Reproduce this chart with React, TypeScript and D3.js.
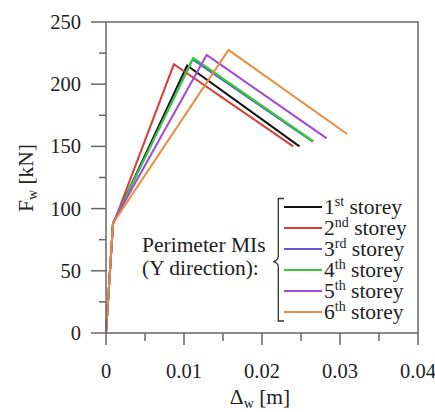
import React from "react";
import * as d3 from "d3";

const labels = ["1", "2", "3", "4", "5", "6"];
const sups = ["st", "nd", "rd", "th", "th", "th"];
const colors = ["#111111", "#d93a3a", "#5a5ad8", "#33cc33", "#a347d6", "#ea8a3c"];

const d1 = [0, 0.0009, 0.0012, 0.0104, 0.0248];
const f1 = [0, 88, 92, 215, 150];
const d2 = [0, 0.0009, 0.0012, 0.0087, 0.024];
const f2 = [0, 88, 92, 216, 150];
const d3s = [0, 0.0009, 0.0012, 0.0111, 0.0265];
const f3 = [0, 88, 92, 220, 153.8];
const d4 = [0, 0.0009, 0.0012, 0.0112, 0.0266];
const f4 = [0, 88, 92, 221, 154];
const d5 = [0, 0.0009, 0.0012, 0.0129, 0.0283];
const f5 = [0, 88, 92, 223.5, 156.5];
const d6 = [0, 0.0009, 0.0012, 0.0157, 0.0309];
const f6 = [0, 88, 91, 227.5, 160];

const seriesD = [d1, d2, d3s, d4, d5, d6];
const seriesF = [f1, f2, f3, f4, f5, f6];

const xTicks = [0, 0.01, 0.02, 0.03, 0.04];
const xTickLabels = ["0", "0.01", "0.02", "0.03", "0.04"];
const yTicks = [0, 50, 100, 150, 200, 250];

export default function App() {
  const W = 435, H = 412;
  const left = 106, right = 418, top = 22, bottom = 333;
  const x = d3.scaleLinear().domain([0, 0.04]).range([left, right]);
  const y = d3.scaleLinear().domain([0, 250]).range([bottom, top]);
  const line = d3.line<[number, number]>().x((p) => x(p[0])).y((p) => y(p[1]));
  const xMinor = d3.range(0, 0.0401, 0.005);
  const yMinor = d3.range(0, 251, 25);
  const font = "Liberation Serif, DejaVu Serif, Times New Roman, serif";
  const ts = { fontFamily: font };
  const axisColor = "#666";
  const legY = [207, 228, 249, 270, 291, 312];
  const fs = 21.5;
  const tfs = 20.5;

  return (
    <svg width={W} height={H} style={{ position: "absolute", left: 0, top: 0, background: "#fff", fontFamily: font }}>
      {seriesD.map((ds, i) => (
        <path key={i} d={line(ds.map((v, j) => [v, seriesF[i][j]]) as [number, number][]) || ""}
          fill="none" stroke={colors[i]} strokeWidth={2} strokeLinejoin="miter" />
      ))}
      <rect x={left} y={top} width={right - left} height={bottom - top} fill="none" stroke={axisColor} strokeWidth={1.5} />
      {xMinor.map((t, i) => {
        const major = i % 2 === 0;
        return <line key={"xm" + i} x1={x(t)} x2={x(t)} y1={bottom} y2={bottom + (major ? 12 : 8)} stroke={axisColor} strokeWidth={1.5} />;
      })}
      {yMinor.map((t, i) => {
        const major = i % 2 === 0;
        return <line key={"ym" + i} x1={left} x2={left - (major ? 15 : 7)} y1={y(t)} y2={y(t)} stroke={axisColor} strokeWidth={1.5} />;
      })}
      {xTicks.map((t, i) => (
        <text key={"xt" + i} x={x(t)} y={378} textAnchor="middle" fontSize={tfs} fill="#222" style={ts}>{xTickLabels[i]}</text>
      ))}
      {yTicks.map((t, i) => (
        <text key={"yt" + i} x={81} y={y(t) + 7} textAnchor="end" fontSize={tfs} fill="#222" style={ts}>{t}</text>
      ))}
      <text x={260} y={404} textAnchor="middle" fontSize={fs} fill="#222" style={ts}>
        Δ<tspan fontSize={14} dy={4}>w</tspan><tspan dy={-4}> [m]</tspan>
      </text>
      <text transform={`translate(33,178) rotate(-90)`} textAnchor="middle" fontSize={fs} fill="#222" style={ts}>
        F<tspan fontSize={14} dy={4}>w</tspan><tspan dy={-4}> [kN]</tspan>
      </text>
      <text x={142} y={252} fontSize={fs} fill="#222" style={ts}>Perimeter MIs</text>
      <text x={142} y={275} fontSize={fs} fill="#222" style={ts}>(Y direction):</text>
      <path d={`M284,198.5 L278.3,198.5 L278.3,256 Q278.3,260.5 273.3,261.7 Q278.3,263 278.3,267 L278.3,321 L284,321`} fill="none" stroke="#333" strokeWidth={1.3} />
      {labels.map((l, i) => (
        <g key={"lg" + i}>
          <line x1={284} x2={322} y1={legY[i]} y2={legY[i]} stroke={colors[i]} strokeWidth={2} />
          <text x={324} y={legY[i] + 6.5} fontSize={fs} fill="#222" style={ts}>
            {l}<tspan fontSize={14} dy={-8}>{sups[i]}</tspan><tspan dy={8}> storey</tspan>
          </text>
        </g>
      ))}
    </svg>
  );
}
